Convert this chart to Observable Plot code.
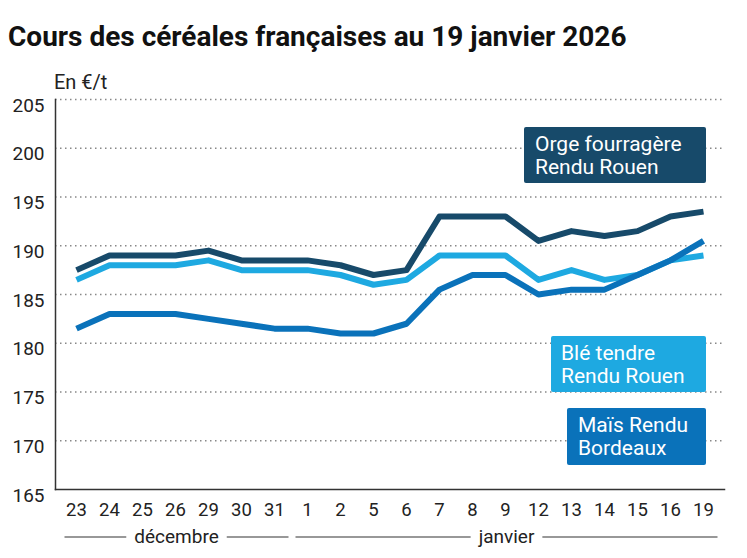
<!DOCTYPE html>
<html>
<head>
<meta charset="utf-8">
<script src="https://cdn.jsdelivr.net/npm/d3@7"></script>
<script src="https://cdn.jsdelivr.net/npm/@observablehq/plot@0.6"></script>
<style>
  body { margin: 0; background: #fff; font-family: Roboto, sans-serif; }
  #wrap { position: relative; width: 747px; height: 558px; overflow: hidden; }
  #title { position: absolute; left: 8px; top: 22px; font-size: 28px; font-weight: 700; color: #111; line-height: 30px; white-space: nowrap; }
  #chart { position: absolute; left: 0; top: 60px; }
  .lab { position: absolute; color: #fff; font-size: 21px; line-height: 23px; border-radius: 2px; box-sizing: border-box; padding-top: 6px; white-space: nowrap; }
  .lab div { height: 23px; line-height: 23px; }
</style>
</head>
<body>
<div id="wrap">
  <div id="title">Cours des céréales françaises au 19 janvier 2026</div>
  <div id="chart"></div>
</div>
<script>
// ---- data ----
const days = ["23","24","25","26","29","30","31","1","2","5","6","7","8","9","12","13","14","15","16","19"];
const orge = [187.5,189,189,189,189.5,188.5,188.5,188.5,188,187,187.5,193,193,193,190.5,191.5,191,191.5,193,193.5];
const ble  = [186.5,188,188,188,188.5,187.5,187.5,187.5,187,186,186.5,189,189,189,186.5,187.5,186.5,187,188.5,189];
const mais = [181.5,183,183,183,182.5,182,181.5,181.5,181,181,182,185.5,187,187,185,185.5,185.5,187,188.5,190.5];
const seriesNames = ["Blé tendre Rendu Rouen", "Orge fourragère Rendu Rouen", "Maïs Rendu Bordeaux"];
const seriesValues = [ble, orge, mais];
const yTicks = [165,170,175,180,185,190,195,200,205];
const monthNames = ["décembre", "janvier"];
const monthStart = ["23", "1"];
const monthEnd = ["31", "19"];

// ---- styles ----
const colors = ["#1ea9e1", "#174a6a", "#0a72ba"];
const labelLines = [["Blé tendre","Rendu Rouen"], ["Orge fourragère","Rendu Rouen"], ["Maïs Rendu","Bordeaux"]];

const data = seriesNames.flatMap((s, i) => days.map((d, j) => ({series: s, day: d, value: seriesValues[i][j]})));

const chart = Plot.plot({
  width: 747,
  height: 498,
  marginTop: 39,
  marginBottom: 69,
  marginLeft: 55,
  marginRight: 23,
  style: {fontFamily: "Roboto", fontSize: "18px", color: "#222", background: "#fff"},
  x: {type: "point", domain: days, padding: 0.5, label: null},
  y: {domain: [165, 205], label: null},
  color: {domain: seriesNames, range: colors},
  marks: [
    Plot.gridY(yTicks.filter(d => d > 165), {stroke: "#888", strokeOpacity: 1, strokeWidth: 1.3, strokeDasharray: "1.5,3.5"}),
    Plot.axisY(yTicks, {tickSize: 0, tickPadding: 11, fontSize: 19, dy: 6, label: null}),
    Plot.axisX({tickSize: 0, tickPadding: 13, fontSize: 18.5, label: null}),
    Plot.frame({anchor: "left", stroke: "#333", strokeWidth: 1.5}),
    Plot.frame({anchor: "bottom", stroke: "#333", strokeWidth: 1.5}),
    Plot.line(data, {x: "day", y: "value", z: "series", stroke: "series", strokeWidth: 6, strokeLinejoin: "round", strokeLinecap: "butt"})
  ]
});
document.getElementById("chart").appendChild(chart);

// ---- y label & month brackets (through Plot's scales) ----
const svg = d3.select(chart);
const xs = chart.scale("x");
const ys = chart.scale("y");
const step = xs.apply(days[1]) - xs.apply(days[0]);
svg.append("text").attr("x", 54).attr("y", 29).attr("text-anchor", "start").attr("font-family", "Roboto").attr("font-size", 20).attr("fill", "#222").text("En €/t");

const bottom = ys.apply(165);
monthNames.forEach((m, i) => {
  const x0 = xs.apply(monthStart[i]) - step / 2 + 5;
  const x1 = xs.apply(monthEnd[i]) + step / 2 - 2;
  const cx = (x0 + x1) / 2;
  const yl = bottom + 48;
  const t = svg.append("text").attr("x", cx).attr("y", yl + 6).attr("text-anchor", "middle")
    .attr("font-family", "Roboto").attr("font-size", 19).attr("fill", "#222").text(m);
  const w = t.node().getComputedTextLength();
  svg.append("line").attr("x1", x0).attr("x2", cx - w / 2 - 8).attr("y1", yl).attr("y2", yl).attr("stroke", "#333").attr("stroke-width", 1.2);
  svg.append("line").attr("x1", cx + w / 2 + 8).attr("x2", x1).attr("y1", yl).attr("y2", yl).attr("stroke", "#333").attr("stroke-width", 1.2);
});

// ---- label boxes (legend) ----
const boxes = [
  {i: 1, left: 524, top: 127, width: 182, height: 56, pad: 11},
  {i: 0, left: 551, top: 336, width: 155, height: 56, pad: 10},
  {i: 2, left: 567, top: 408, width: 139, height: 57, pad: 11}
];
const wrap = document.getElementById("wrap");
boxes.forEach(b => {
  const div = document.createElement("div");
  div.className = "lab";
  div.style.left = b.left + "px";
  div.style.top = b.top + "px";
  div.style.width = b.width + "px";
  div.style.height = b.height + "px";
  div.style.paddingLeft = b.pad + "px";
  div.style.background = colors[b.i];
  labelLines[b.i].forEach(line => {
    const d = document.createElement("div");
    d.textContent = line;
    div.appendChild(d);
  });
  wrap.appendChild(div);
});
</script>
</body>
</html>
